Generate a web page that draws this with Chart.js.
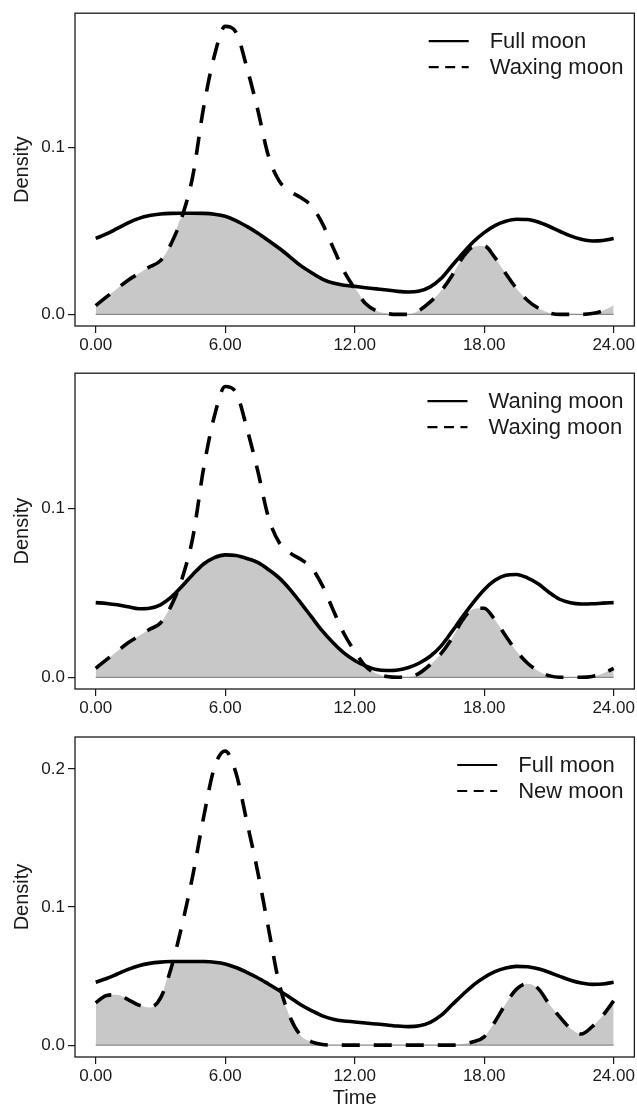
<!DOCTYPE html>
<html><head><meta charset="utf-8">
<script src="https://cdn.jsdelivr.net/npm/chart.js@4.4.0/dist/chart.umd.min.js"></script>
<style>
html,body{margin:0;padding:0;background:#fff;}
canvas{position:absolute;left:0;display:block;}
</style></head><body>
<canvas id="c1" width="637" height="360" style="top:0px"></canvas>
<canvas id="c2" width="637" height="360" style="top:360px"></canvas>
<canvas id="c3" width="637" height="392" style="top:720px"></canvas>
<script>
const times = [0,0.5,1,1.5,2,2.5,3,3.5,4,4.5,5,5.5,6,6.5,7,7.5,8,8.5,9,9.5,10,10.5,11,11.5,12,12.5,13,13.5,14,14.5,15,15.5,16,16.5,17,17.5,18,18.5,19,19.5,20,20.5,21,21.5,22,22.5,23,23.5,24];
const fullMoon = [0.0455,0.0482,0.0515,0.0548,0.0575,0.0592,0.0601,0.0605,0.0606,0.0606,0.0605,0.0600,0.0588,0.0562,0.0527,0.0488,0.0443,0.0396,0.0345,0.0292,0.0250,0.0212,0.0188,0.0175,0.0168,0.0160,0.0153,0.0146,0.0138,0.0134,0.0140,0.0165,0.0215,0.0290,0.0365,0.0435,0.0490,0.0532,0.0558,0.0570,0.0568,0.0553,0.0528,0.0498,0.0470,0.0450,0.0440,0.0443,0.0455];
const waxingMoon = [0.0053,0.0105,0.0155,0.0205,0.0245,0.0285,0.0322,0.0425,0.0585,0.0830,0.1240,0.1550,0.1725,0.1690,0.1480,0.1230,0.0950,0.0800,0.0738,0.0700,0.0650,0.0545,0.0400,0.0260,0.0155,0.0065,0.0022,0.0005,0,0,0.0025,0.0075,0.0140,0.0230,0.0340,0.0405,0.0410,0.0340,0.0245,0.0155,0.0085,0.0038,0.0010,0,0,0,0.0005,0.0022,0.0053];
const waningMoon = [0.0443,0.0438,0.0430,0.0418,0.0407,0.0410,0.0430,0.0475,0.0540,0.0610,0.0672,0.0710,0.0726,0.0722,0.0705,0.0682,0.0640,0.0590,0.0522,0.0442,0.0358,0.0275,0.0205,0.0145,0.0100,0.0068,0.0046,0.0040,0.0043,0.0058,0.0085,0.0125,0.0185,0.0270,0.0360,0.0445,0.0520,0.0575,0.0605,0.0610,0.0590,0.0555,0.0505,0.0463,0.0442,0.0435,0.0436,0.0440,0.0443];
const newMoon = [0.0306,0.0360,0.0365,0.0330,0.0290,0.0272,0.0340,0.0560,0.0870,0.1230,0.1650,0.2010,0.2130,0.1970,0.1620,0.1260,0.0850,0.0446,0.0205,0.0070,0.0024,0.0005,0,0,0,0,0,0,0,0,0,0,0,0,0.0008,0.0025,0.0060,0.0169,0.0300,0.0405,0.0445,0.0410,0.0300,0.0205,0.0120,0.0080,0.0133,0.0215,0.0320];
const xTicks = [0,6,12,18,24];
const yTicksTop = [0,0.1];
const yTicksBottom = [0,0.1,0.2];
const legend1 = ['Full moon','Waxing moon'];
const legend2 = ['Waning moon','Waxing moon'];
const legend3 = ['Full moon','New moon'];

const FONT = "'Liberation Sans', Arial, sans-serif";
const INK = '#1a1a1a';

function pts(arr){ return times.map((t,i)=>({x:t,y:arr[i]})); }

const boxPlugin = {
  id:'boxAndLegend',
  afterDraw(chart){
    const {ctx, chartArea:a} = chart;
    const o = chart.options.plugins.boxAndLegend;
    ctx.save();
    ctx.strokeStyle = INK; ctx.lineWidth = 1.3;
    ctx.strokeRect(a.left, a.top, a.right-a.left, a.bottom-a.top);
    ctx.font = '22px ' + FONT;
    ctx.fillStyle = INK; ctx.textBaseline = 'middle'; ctx.textAlign = 'left';
    const w = Math.max(...o.labels.map(s=>ctx.measureText(s).width));
    const tx = a.right - 11 - w;
    o.labels.forEach((s,i)=>{
      const y = a.top + 28 + i*26;
      ctx.beginPath();
      ctx.setLineDash(i===0?[]:[10,6.5]);
      ctx.lineWidth = 2.2; ctx.strokeStyle = '#000';
      ctx.moveTo(tx-61,y); ctx.lineTo(tx-21,y); ctx.stroke();
      ctx.setLineDash([]);
      ctx.fillText(s, tx, y+1);
    });
    ctx.restore();
  }
};

function makeChart(id, cfg){
  const solid = pts(cfg.solid), dashed = pts(cfg.dashed);
  const overlap = times.map((t,i)=>({x:t,y:Math.min(cfg.solid[i],cfg.dashed[i])}));
  const base = times.map(t=>({x:t,y:0}));
  const common = {pointRadius:0, cubicInterpolationMode:'monotone', fill:false};
  new Chart(document.getElementById(id), {
    type:'line',
    data:{datasets:[
      Object.assign({data:solid, borderColor:'#000', borderWidth:3.6, order:0}, common),
      Object.assign({data:dashed, borderColor:'#000', borderWidth:3.6, borderDash:[18,14], borderCapStyle:'butt', order:0}, common),
      Object.assign({data:base, borderColor:'#8a8a8a', borderWidth:1.2, order:1}, common),
      Object.assign({}, common, {data:overlap, fill:'origin', backgroundColor:'#c8c8c8', borderWidth:0, order:2})
    ]},
    options:{
      responsive:false, animation:false,
      layout:{padding:{top:cfg.padTop, right:2, left:0, bottom:0}},
      plugins:{legend:{display:false}, tooltip:{enabled:false}, boxAndLegend:{labels:cfg.labels}},
      scales:{
        x:{type:'linear', min:-0.96, max:24.96,
          afterBuildTicks(s){ s.ticks = xTicks.map(v=>({value:v})); },
          afterFit(s){ s.height = cfg.xAxisH; },
          border:{display:false},
          grid:{display:true, drawOnChartArea:false, drawTicks:true, tickLength:7, color:INK, lineWidth:1.2},
          ticks:{padding:2, color:INK, font:{family:FONT, size:17}, maxRotation:0, callback:v=>Number(v).toFixed(2)},
          title:{display:!!cfg.xTitle, text:cfg.xTitle||'', color:INK, font:{family:FONT, size:20}, padding:{top:0,bottom:2}}
        },
        y:{type:'linear', min:cfg.yMin, max:cfg.yMax,
          afterBuildTicks(s){ s.ticks = cfg.yTicks.map(v=>({value:v})); },
          afterFit(s){ s.width = 75; },
          border:{display:false},
          grid:{display:true, drawOnChartArea:false, drawTicks:true, tickLength:7, color:INK, lineWidth:1.2},
          ticks:{padding:3, color:INK, font:{family:FONT, size:17}, callback:v=>Number(v).toFixed(1)},
          title:{display:true, text:'Density', color:INK, font:{family:FONT, size:20}, padding:{top:10,bottom:0}}
        }
      }
    },
    plugins:[boxPlugin]
  });
}

makeChart('c1', {solid:fullMoon, dashed:waxingMoon, labels:legend1, padTop:7, xAxisH:34, yMin:-0.00694, yMax:0.1804, yTicks:yTicksTop});
makeChart('c2', {solid:waningMoon, dashed:waxingMoon, labels:legend2, padTop:10, xAxisH:31, yMin:-0.00694, yMax:0.1804, yTicks:yTicksTop});
makeChart('c3', {solid:fullMoon, dashed:newMoon, labels:legend3, padTop:17, xAxisH:55, yMin:-0.0086, yMax:0.2231, yTicks:yTicksBottom, xTitle:'Time'});
</script>
</body></html>
